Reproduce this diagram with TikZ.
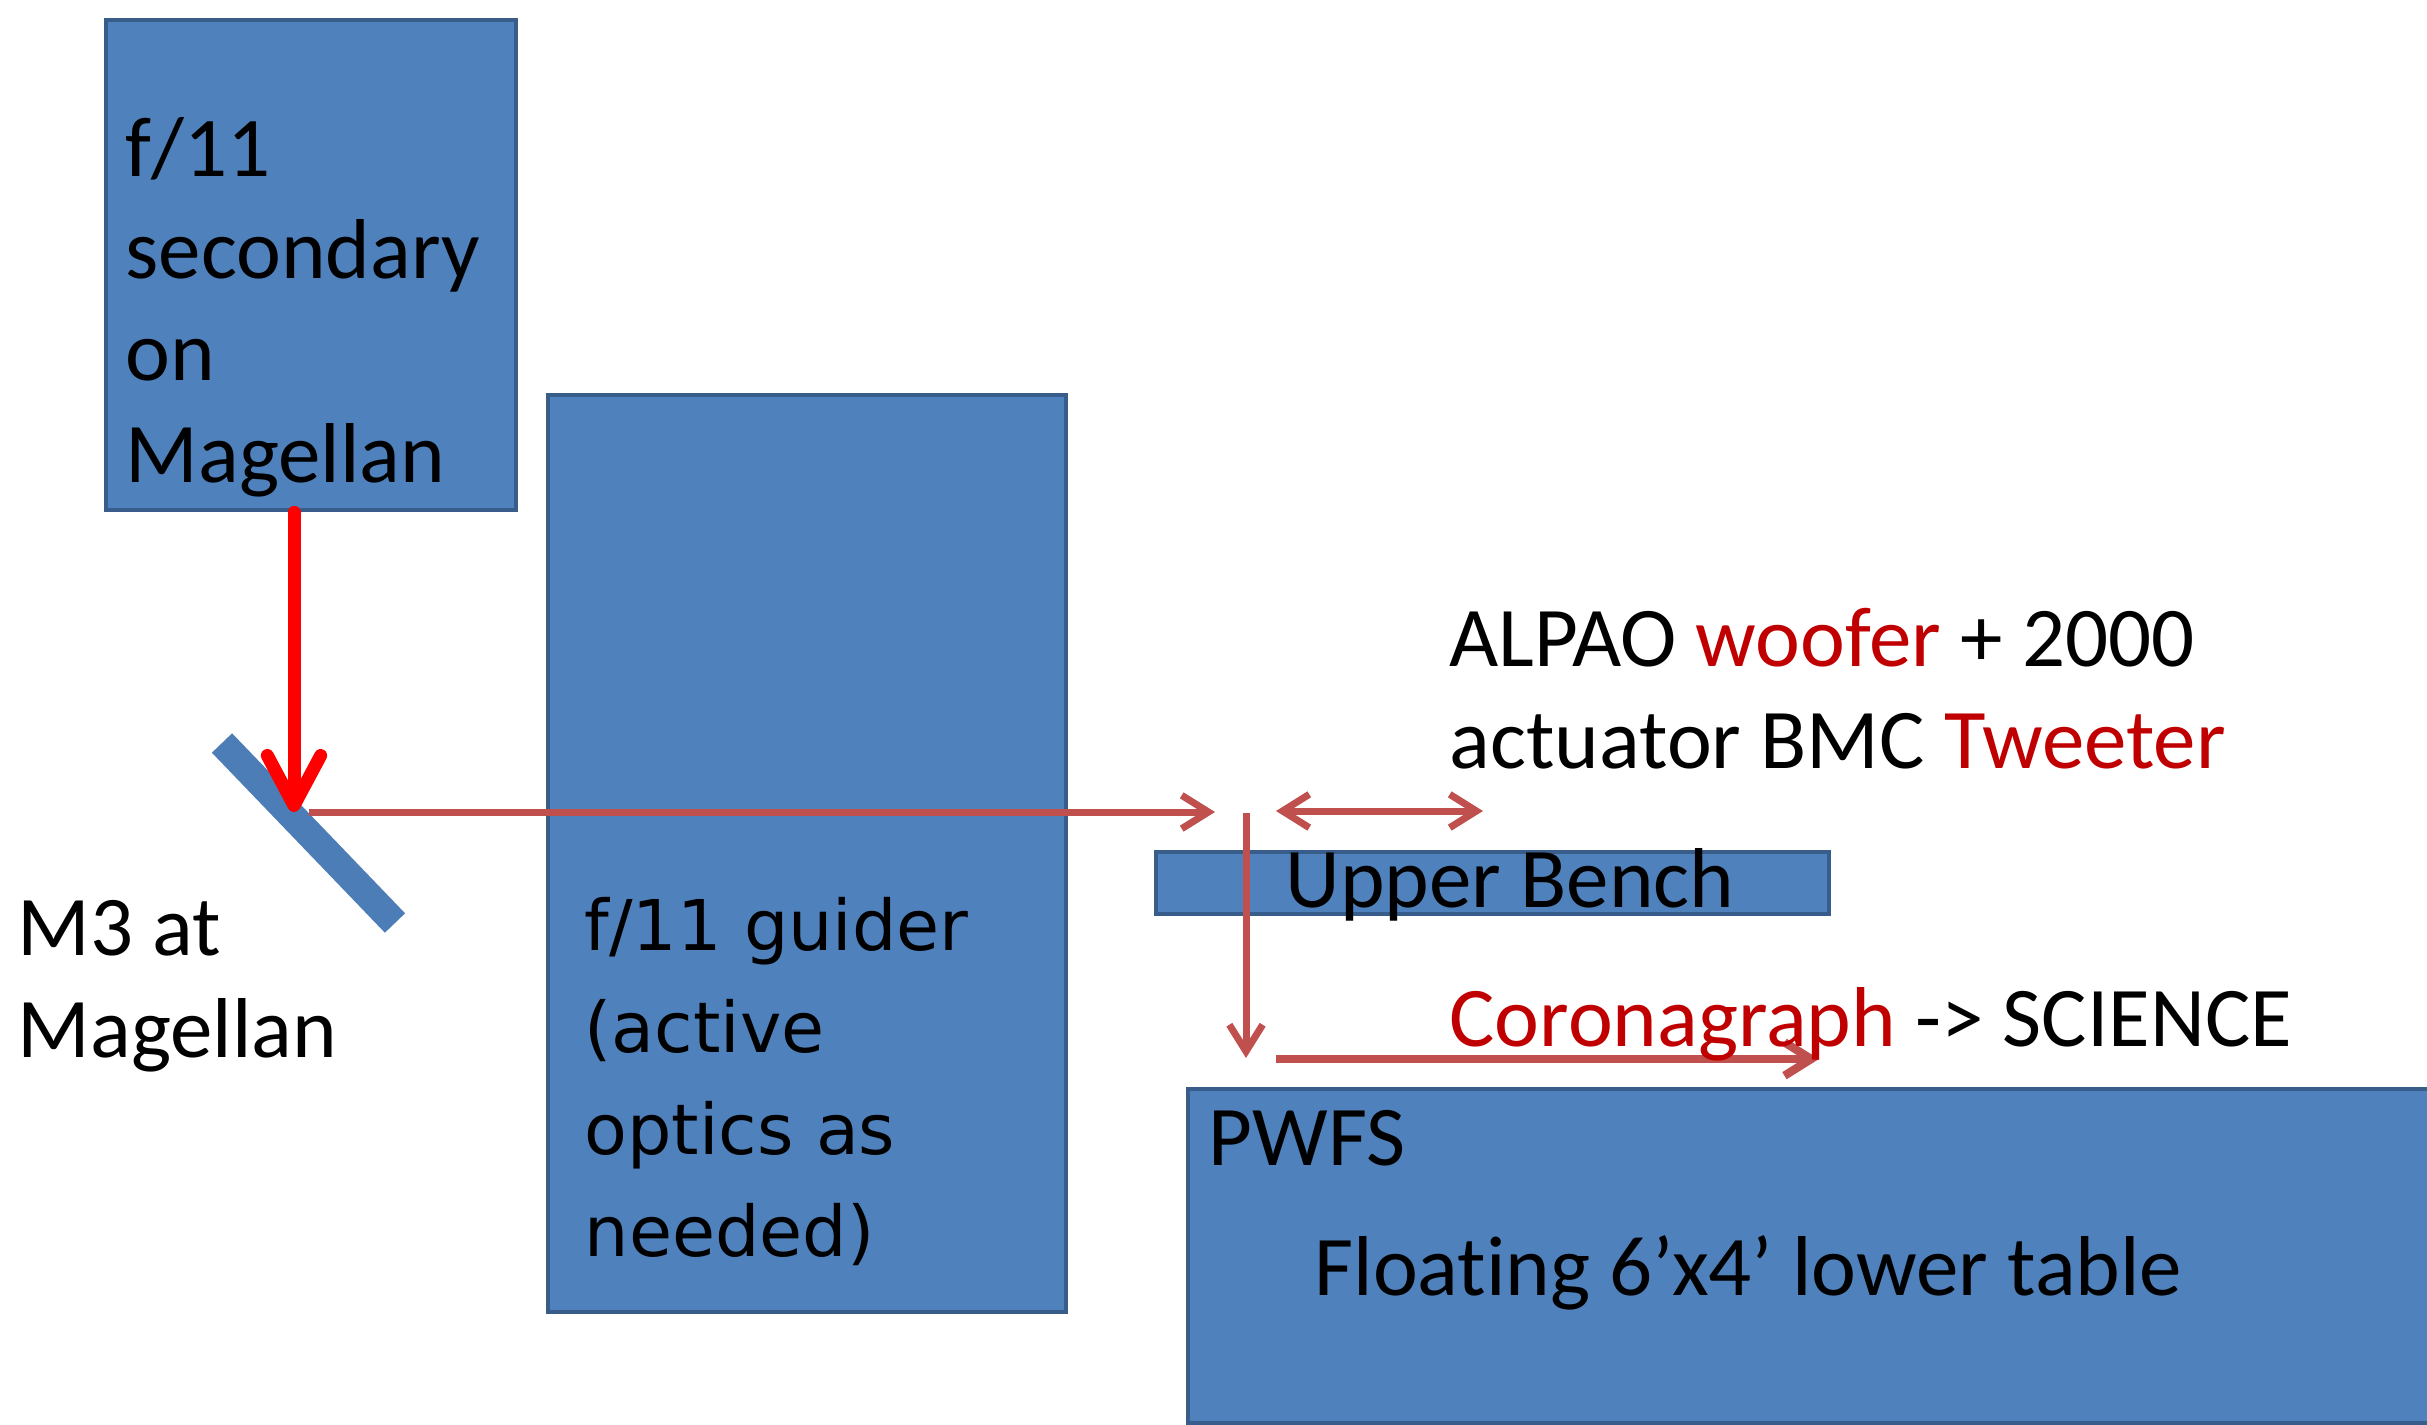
\documentclass[tikz,border=0pt]{standalone}
\usepackage{fontspec}
\setmainfont[Ligatures=NoCommon]{Carlito}
\newfontfamily\verd{DejaVu Sans}
\usetikzlibrary{arrows.meta}
\definecolor{boxfill}{HTML}{4F81BD}
\definecolor{boxline}{HTML}{385D8A}
\definecolor{beam}{HTML}{C0504D}
\definecolor{hotred}{HTML}{FF0000}
\definecolor{txtred}{HTML}{C00000}
\tikzset{
  box/.style={draw=boxline, fill=boxfill, line width=1.3pt, rectangle, inner sep=0pt, anchor=north west},
  lbl/.style={inner sep=0pt, anchor=base west, align=left, font=\fontsize{25.5}{30.6}\selectfont},
  vlbl/.style={inner sep=0pt, anchor=base west, align=left, font=\verd\fontsize{21}{30.6}\selectfont},
  beamline/.style={draw=beam, line width=2.1pt, -{Straight Barb[length=8pt,width=10pt]}},
  hotarrow/.style={draw=hotred, line width=3.9pt, line cap=round, -{Straight Barb[length=15pt,width=16pt,round]}},
}
\begin{document}
\begin{tikzpicture}[x=0.3pt,y=-0.3pt]
\useasboundingbox (0,0) rectangle (2427,1424);
% boxes
\node[box, minimum width=123pt, minimum height=147pt] (sec) at (104,18) {};
\node[box, minimum width=155.4pt, minimum height=275.1pt] (guider) at (546,393) {};
\node[box, minimum width=201.9pt, minimum height=18.6pt] (bench) at (1154,850) {};
\node[box, minimum width=379.2pt, minimum height=100.2pt] (pwfs) at (1186,1087) {};
% mirror M3
\coordinate (mA) at (222,743);
\coordinate (mB) at (395,923);
\draw[boxfill!97!black, line width=8.4pt] (mA) -- (mB);
% beam coordinates
\coordinate (m3) at (294,812);
\coordinate (bstart) at (309,812);
\coordinate (bend) at (1215,812);
\coordinate (vtop) at (1246,813);
\coordinate (vbot) at (1246,1058);
\coordinate (dl) at (1276,811);
\coordinate (dr) at (1483,811);
\coordinate (cl) at (1276,1059);
\coordinate (cr) at (1819,1059);
% beams
\draw[beamline] (bstart) -- (bend);
\draw[beamline] (vtop) -- (vbot);
\draw[beamline, {Straight Barb[length=8pt,width=10pt]}-{Straight Barb[length=8pt,width=10pt]}] (dl) -- (dr);
\draw[beamline, line width=2.5pt] (cl) -- (cr);
\draw[hotarrow] (m3 |- sec.south) -- (m3);
% labels (anchored at the baseline of the last line)
\node[lbl] (secT) at (125,482) {f/11\\secondary\\on\\Magellan};
\node[lbl] (m3T) at (17,1057) {M3 at\\Magellan};
\node[vlbl] (guiT) at (584,1256) {f/11 guider\\(active\\optics as\\needed)};
\node[lbl] (alpT) at (1449,768) {ALPAO \textcolor{txtred}{woofer} + 2000\\actuator BMC \textcolor{txtred}{Tweeter}};
\node[lbl] (benchT) at (1285,907) {Upper Bench};
\node[lbl] (coroT) at (1449,1046) {\textcolor{txtred}{Coronagraph} -> SCIENCE};
\node[lbl] (pwfsT) at (1208,1165) {PWFS};
\node[lbl] (floatT) at (1314,1295) {Floating 6’x4’ lower table};
\end{tikzpicture}
\end{document}
